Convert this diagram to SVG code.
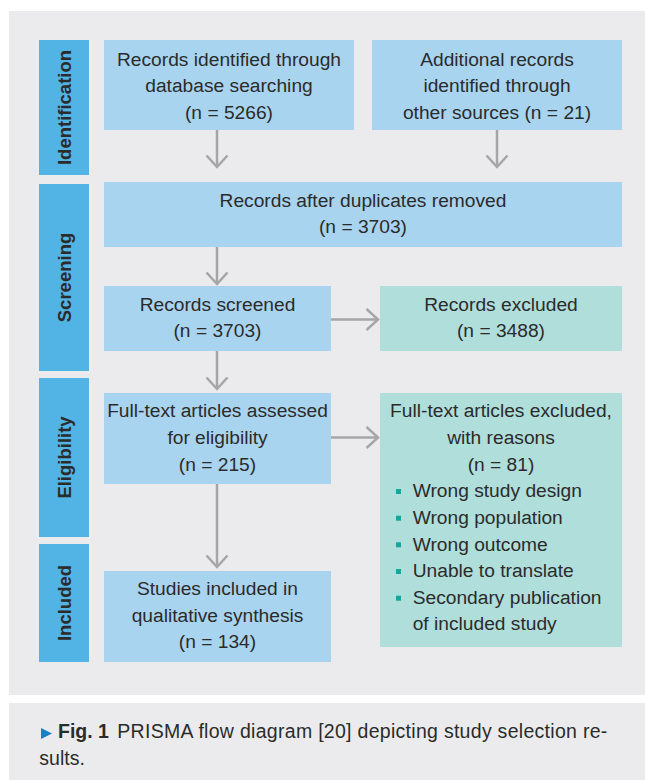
<svg xmlns="http://www.w3.org/2000/svg" width="645" height="780" viewBox="0 0 645 780">
<defs>
<style>
.panel{fill:#ebebed}
.bar{fill:#52b3e5}
.box{fill:#a9d4ef}
.exc{fill:#b0dedb}
.lbl{font-family:"Liberation Sans",Arial,sans-serif;font-size:18.5px;font-weight:bold;fill:#2b2b2b;text-anchor:middle}
.t{font-family:"Liberation Sans",Arial,sans-serif;font-size:19.2px;fill:#2b2b2b;text-anchor:middle}
.tl{font-family:"Liberation Sans",Arial,sans-serif;font-size:19.2px;fill:#2b2b2b}
.bul{fill:#17a59d}
.con{stroke:#a6a6a6;stroke-width:2.5;fill:none}
.cap{font-family:"Liberation Sans",Arial,sans-serif;font-size:19.5px;fill:#2b2b2b}
</style>
<marker id="ah" viewBox="0 0 14 24" refX="12.5" refY="12" markerWidth="14" markerHeight="24" markerUnits="userSpaceOnUse" orient="auto">
<path d="M1,1.5 L12.5,12 L1,22.5" fill="none" stroke="#a6a6a6" stroke-width="2.5"/>
</marker>
</defs>
<rect class="panel" x="9" y="11" width="636" height="684"/>
<rect class="panel" x="9" y="703" width="636" height="77"/>

<g id="lane-identification"><rect class="bar" x="39" y="40" width="50" height="135"/><text class="lbl" transform="translate(70.5,107.5) rotate(-90)">Identification</text></g>
<g id="lane-screening"><rect class="bar" x="39" y="184" width="50" height="187"/><text class="lbl" transform="translate(70.5,277.5) rotate(-90)">Screening</text></g>
<g id="lane-eligibility"><rect class="bar" x="39" y="378" width="50" height="159"/><text class="lbl" transform="translate(70.5,457.5) rotate(-90)">Eligibility</text></g>
<g id="lane-included"><rect class="bar" x="39" y="544" width="50" height="118"/><text class="lbl" transform="translate(70.5,603) rotate(-90)">Included</text></g>

<g id="connectors">
<line class="con" x1="217" y1="130" x2="217" y2="167" marker-end="url(#ah)"/>
<line class="con" x1="497" y1="130" x2="497" y2="167" marker-end="url(#ah)"/>
<line class="con" x1="217" y1="247" x2="217" y2="284" marker-end="url(#ah)"/>
<line class="con" x1="217" y1="351" x2="217" y2="389" marker-end="url(#ah)"/>
<line class="con" x1="217" y1="484" x2="217" y2="567" marker-end="url(#ah)"/>
<line class="con" x1="331" y1="319.5" x2="378" y2="319.5" marker-end="url(#ah)"/>
<line class="con" x1="331" y1="437.5" x2="378" y2="437.5" marker-end="url(#ah)"/>
</g>

<g id="db"><rect class="box" x="104" y="40" width="250" height="90"/>
<text class="t" x="229" y="65.7">Records identified through</text>
<text class="t" x="229" y="92.3">database searching</text>
<text class="t" x="229" y="119">(n = 5266)</text></g>

<g id="other"><rect class="box" x="372" y="40" width="250" height="90"/>
<text class="t" x="497" y="65.7">Additional records</text>
<text class="t" x="497" y="92.3">identified through</text>
<text class="t" x="497" y="119">other sources (n = 21)</text></g>

<g id="dedup"><rect class="box" x="104" y="182" width="518" height="65"/>
<text class="t" x="363" y="206.7">Records after duplicates removed</text>
<text class="t" x="363" y="233.3">(n = 3703)</text></g>

<g id="screened"><rect class="box" x="104" y="286" width="227" height="65"/>
<text class="t" x="217.5" y="310.7">Records screened</text>
<text class="t" x="217.5" y="337.3">(n = 3703)</text></g>

<g id="excluded"><rect class="exc" x="380" y="286" width="242" height="65"/>
<text class="t" x="501" y="310.7">Records excluded</text>
<text class="t" x="501" y="337.3">(n = 3488)</text></g>

<g id="fulltext"><rect class="box" x="104" y="393" width="227" height="91"/>
<text class="t" x="217.5" y="417.3">Full-text articles assessed</text>
<text class="t" x="217.5" y="444">for eligibility</text>
<text class="t" x="217.5" y="470.7">(n = 215)</text></g>

<g id="ftexcluded"><rect class="exc" x="380" y="393" width="242" height="254"/>
<text class="t" x="501" y="417.3">Full-text articles excluded,</text>
<text class="t" x="501" y="444">with reasons</text>
<text class="t" x="501" y="470.7">(n = 81)</text>
<rect class="bul" x="396" y="489" width="5" height="5"/><text class="tl" x="412.7" y="497.3">Wrong study design</text>
<rect class="bul" x="396" y="515.7" width="5" height="5"/><text class="tl" x="412.7" y="524">Wrong population</text>
<rect class="bul" x="396" y="542.3" width="5" height="5"/><text class="tl" x="412.7" y="550.7">Wrong outcome</text>
<rect class="bul" x="396" y="569" width="5" height="5"/><text class="tl" x="412.7" y="577.3">Unable to translate</text>
<rect class="bul" x="396" y="595.7" width="5" height="5"/><text class="tl" x="412.7" y="604">Secondary publication</text>
<text class="tl" x="412.7" y="630.3">of included study</text></g>

<g id="included"><rect class="box" x="104" y="571" width="227" height="91"/>
<text class="t" x="217.5" y="595">Studies included in</text>
<text class="t" x="217.5" y="621.7">qualitative synthesis</text>
<text class="t" x="217.5" y="648.3">(n = 134)</text></g>

<g id="caption">
<path d="M41,728 L52,733.5 L41,739 Z" fill="#1a7fc1"/>
<text class="cap" x="58" y="738.3" font-weight="bold">Fig. 1</text>
<text class="cap" x="117.3" y="738.3" textLength="490" lengthAdjust="spacing">PRISMA flow diagram [20] depicting study selection re-</text>
<text class="cap" x="39.3" y="765">sults.</text>
</g>
</svg>
